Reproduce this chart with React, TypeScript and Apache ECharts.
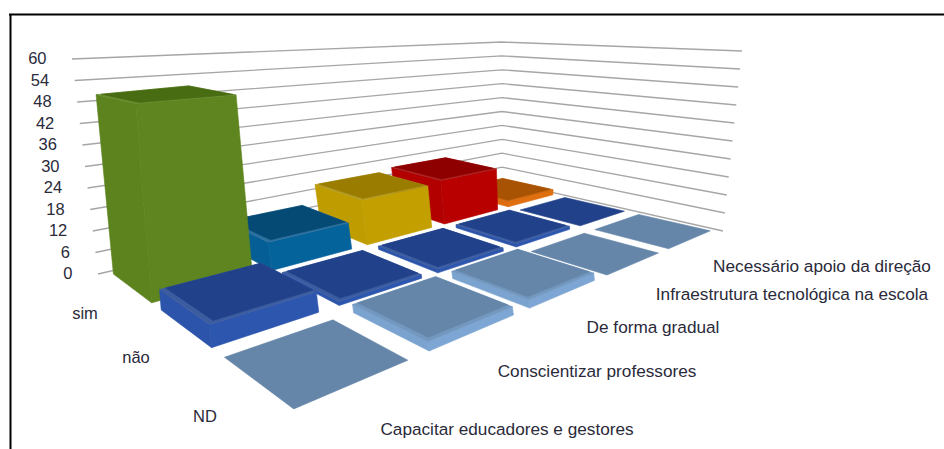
import React, { useEffect, useRef } from "react";
import * as echarts from "echarts";

const columns = [
  "Capacitar educadores e gestores",
  "Conscientizar professores",
  "De forma gradual",
  "Infraestrutura tecnológica na escola",
  "Necessário apoio da direção",
];
const rows = ["sim", "não", "ND"];
const yTicks = [0, 6, 12, 18, 24, 30, 36, 42, 48, 54, 60];

const simValues = [50, 8, 14, 15, 2];
const naoValues = [5, 1, 1, 1, 0];
const ndValues = [0, 2, 2, 0, 0];

type Shade = { top: string; side: string; side2: string; bevel: string };
const simShades: Shade[] = [
  { top: "#486c12", side: "#5e851f", side2: "#5c831e", bevel: "#648b2b" },
  { top: "#054a74", side: "#05639c", side2: "#055f96", bevel: "#2c6f9e" },
  { top: "#9a7c00", side: "#c3a000", side2: "#bf9d00", bevel: "#b39a20" },
  { top: "#8e0000", side: "#b80000", side2: "#b20000", bevel: "#a82020" },
  { top: "#a85204", side: "#e06f10", side2: "#dc6c0e", bevel: "#c9660c" },
];
const naoShade: Shade = { top: "#21428a", side: "#2d56ae", side2: "#2c54aa", bevel: "#3c5ca0" };
const ndShade: Shade = { top: "#6586a9", side: "#7da6d4", side2: "#7ba3d0", bevel: "#7398bf" };

// screen anchors of the 3D box: floor and z = 60 plane, corners (u0,v0) (u5,v0) (u5,v3) (u0,v3)
const floorQuad = [[98, 274], [502, 181], [723, 231], [288, 422]];
const wallTopQuad = [[72, 59], [502, 42], [742, 51], [271, 81]];
const barTopQuad = [[78, 59], [503, 41], [742, 51], [259, 81]];
const U = 5, V = 3, Zmax = 60, GAP = 0.09;

function homography(q: number[][]) {
  const [[x0, y0], [x1, y1], [x2, y2], [x3, y3]] = q;
  const dx1 = x1 - x2, dx2 = x3 - x2, dx3 = x0 - x1 + x2 - x3;
  const dy1 = y1 - y2, dy2 = y3 - y2, dy3 = y0 - y1 + y2 - y3;
  const d = dx1 * dy2 - dx2 * dy1;
  const g = (dx3 * dy2 - dx2 * dy3) / d;
  const h = (dx1 * dy3 - dx3 * dy1) / d;
  return (s: number, t: number) => {
    const w = g * s + h * t + 1;
    return [
      ((x1 - x0 + g * x1) * s + (x3 - x0 + h * x3) * t + x0) / w,
      ((y1 - y0 + g * y1) * s + (y3 - y0 + h * y3) * t + y0) / w,
    ];
  };
}
const floorH = homography(floorQuad);
const wallH = homography(wallTopQuad);
const barH = homography(barTopQuad);
function lerpZ(topH: any, u: number, v: number, z: number) {
  const a = floorH(u / U, v / V);
  const b = topH(u / U, v / V);
  const k = z / Zmax;
  return [a[0] + (b[0] - a[0]) * k, a[1] + (b[1] - a[1]) * k];
}
const wallPoint = (u: number, v: number, z: number) => lerpZ(wallH, u, v, z);
// small lens corrections: the back row sits further along the depth axis, tall bars flare out
function barPoint(u: number, v: number, z: number) {
  const warp = 0.05 * Math.sin((Math.PI * u) / U) * Math.max(0, 1 - v / 1.5);
  const p = lerpZ(barH, u + warp, v, z);
  const k3 = Math.pow(z / Zmax, 3);
  return [p[0] + 52 * (u / U) * k3 * (v + 0.2), p[1] - 19 * (u / U) * k3 * Math.max(0, 1.1 - v)];
}

// helper grid: its axes only supply the scales (column index and value)
const GRID_W = 500, GRID_H = 300;

function poly(points: number[][], fill: string, stroke?: string) {
  return {
    type: "polygon",
    shape: { points },
    style: { fill, stroke: stroke || fill, lineWidth: 0.6, lineJoin: "round" },
  };
}

function barRenderer(shadeOf: (c: number) => Shade, rowIndex: number) {
  return (_p: any, api: any) => {
    const c = api.value(0);
    const pos = api.coord([c, api.value(1)]);
    const u0 = pos[0] / (GRID_W / U) - 0.5;
    const z = ((GRID_H - pos[1]) / GRID_H) * Zmax;
    const s = shadeOf(c);
    const a = u0 + GAP, b = u0 + 1 - GAP;
    const f = rowIndex + GAP, n = rowIndex + 1 - GAP;
    const P = barPoint;
    const children: any[] = [];
    if (z > 0) {
      children.push(poly([P(a, n, 0), P(b, n, 0), P(b, n, z), P(a, n, z)], s.side));
      children.push(poly([P(a, f, 0), P(a, n, 0), P(a, n, z), P(a, f, z)], s.side2));
    }
    const i = 0.045;
    if (z > 0) {
      children.push(poly([P(a, f, z), P(b, f, z), P(b, n, z), P(a, n, z)], s.bevel));
      children.push(poly([P(a + i, f, z), P(b, f, z), P(b, n - i, z), P(a + i, n - i, z)], s.top));
    } else {
      children.push(poly([P(a, f, 0), P(b, f, 0), P(b, n, 0), P(a, n, 0)], s.top));
    }
    return { type: "group", children };
  };
}

function wallRenderer(_p: any, api: any) {
  const value = api.coord([0, api.value(0)]);
  const z = ((GRID_H - value[1]) / GRID_H) * Zmax;
  const left = wallPoint(0, 0, z);
  return {
    type: "group",
    children: [
      {
        type: "polyline",
        shape: { points: [left, wallPoint(U, 0, z), wallPoint(U, V, z)] },
        style: { fill: "none", stroke: "#a6a6a6", lineWidth: 1.3 },
      },
      {
        type: "text",
        x: left[0] - 25.5,
        y: left[1] - 1,
        style: {
          text: String(api.value(0)),
          textAlign: "right",
          textVerticalAlign: "middle",
          fill: "#2a2a3a",
          font: "16.5px 'Liberation Sans'",
        },
      },
    ],
  };
}

// reversed column order paints back-to-front
const byColumn = (vals: number[]) => vals.map((v, i) => [i, v]).reverse();

const columnLabelAt = [[507, 429], [597, 371], [653, 327], [792, 294], [822, 266]];
const rowLabelAt = [[85, 313], [136, 357], [205, 416]];
const columnFont = "17.2px 'Liberation Sans'";
const rowFont = "16.5px 'Liberation Sans'";

export default function App() {
  const ref = useRef<HTMLDivElement>(null);
  useEffect(() => {
    const chart = echarts.init(ref.current!, undefined, { renderer: "svg" });
    const text = (t: string, p: number[], i: string, font: string) => ({
      type: "text",
      id: i,
      x: p[0],
      y: p[1],
      silent: true,
      style: { text: t, textAlign: "center", textVerticalAlign: "middle", fill: "#2a2a3a", font },
    });
    chart.setOption({
      animation: false,
      backgroundColor: "#ffffff",
      grid: { left: 0, top: 0, width: GRID_W, height: GRID_H, show: false },
      xAxis: { type: "category", data: columns, show: false },
      yAxis: { type: "value", min: 0, max: 60, interval: 6, show: false },
      graphic: [
        { type: "line", id: "frameTop", shape: { x1: 9, y1: 14.5, x2: 944, y2: 14.5 }, style: { stroke: "#000", lineWidth: 2 } },
        { type: "line", id: "frameLeft", shape: { x1: 10.5, y1: 14, x2: 10.5, y2: 449 }, style: { stroke: "#000", lineWidth: 2 } },
        ...columns.map((c, i) => text(c, columnLabelAt[i], "col" + i, columnFont)),
        ...rows.map((r, i) => text(r, rowLabelAt[i], "row" + i, rowFont)),
      ],
      series: [
        {
          type: "custom",
          name: "walls",
          renderItem: wallRenderer,
          data: yTicks.map((t) => [t]),
          encode: { y: 0 },
          silent: true,
          z: 1,
        },
        {
          type: "custom",
          name: rows[0],
          renderItem: barRenderer((c) => simShades[c], 0),
          data: byColumn(simValues),
          silent: true,
          z: 2,
        },
        {
          type: "custom",
          name: rows[1],
          renderItem: barRenderer(() => naoShade, 1),
          data: byColumn(naoValues),
          silent: true,
          z: 3,
        },
        {
          type: "custom",
          name: rows[2],
          renderItem: barRenderer(() => ndShade, 2),
          data: byColumn(ndValues),
          silent: true,
          z: 4,
        },
      ],
    });
    return () => chart.dispose();
  }, []);
  return (
    <div
      ref={ref}
      style={{ position: "fixed", left: 0, top: 0, width: 944, height: 449, background: "#fff" }}
    />
  );
}
